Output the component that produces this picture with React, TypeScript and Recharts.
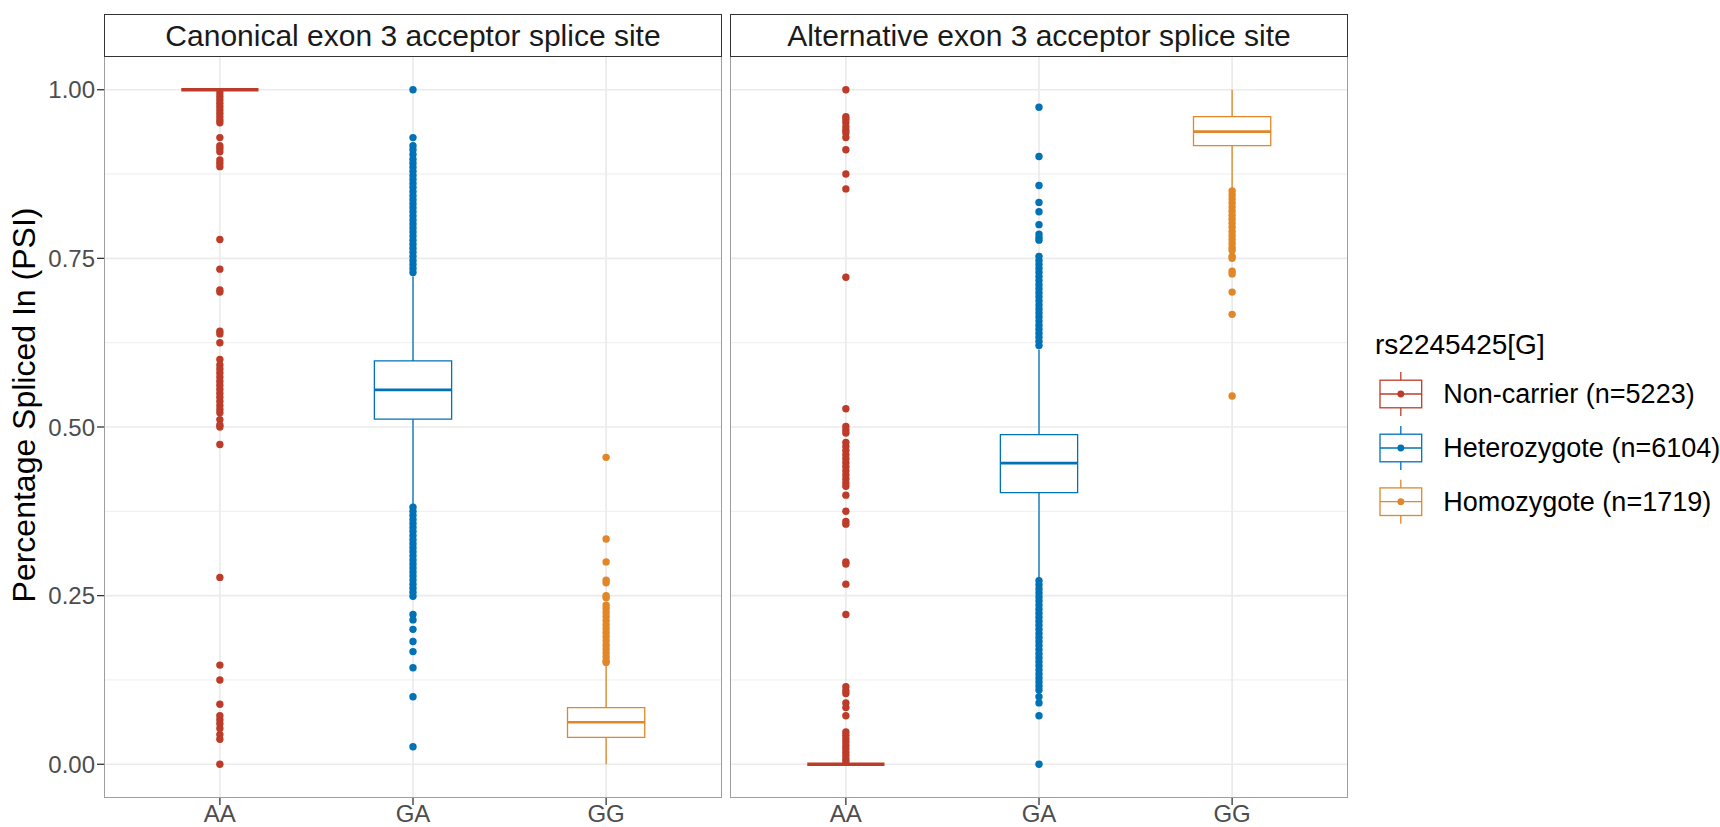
import React from "react";
import {
  ComposedChart,
  XAxis,
  YAxis,
  CartesianGrid,
  Scatter,
  ReferenceArea,
  ReferenceLine,
} from "recharts";

const genotypes = ["AA", "GA", "GG"];
const panelTitles = [
  "Canonical exon 3 acceptor splice site",
  "Alternative exon 3 acceptor splice site",
];
const groupLabels = [
  "Non-carrier (n=5223)",
  "Heterozygote (n=6104)",
  "Homozygote (n=1719)",
];
const groupColors = ["#BC3C29", "#0072B5", "#E18727"];
const legendTitle = "rs2245425[G]";
const yAxisTitle = "Percentage Spliced In (PSI)";
const yTicks = [0, 0.25, 0.5, 0.75, 1];
const yMinor = [0.125, 0.375, 0.625, 0.875];

// [whiskerLow, q1, median, q3, whiskerHigh] per genotype
const canonicalStats = [
  [1, 1, 1, 1, 1],
  [0.3845, 0.5116, 0.555, 0.598, 0.723],
  [0, 0.04, 0.0623, 0.084, 0.1495],
];
const alternativeStats = [
  [0, 0, 0, 0, 0],
  [0.276, 0.4028, 0.4464, 0.4888, 0.615],
  [0.854, 0.917, 0.938, 0.96, 1.0],
];

const canonicalAA = [
  0.995, 0.99, 0.985, 0.98, 0.975, 0.97, 0.965, 0.96, 0.955, 0.951,
  0.929, 0.917, 0.913, 0.908, 0.896, 0.891, 0.886,
  0.778, 0.734, 0.703, 0.7, 0.642, 0.638, 0.625, 0.6,
  0.592, 0.586, 0.58, 0.574, 0.568, 0.562, 0.556, 0.55, 0.544, 0.538, 0.532, 0.526, 0.521,
  0.511, 0.503, 0.5, 0.474, 0.277, 0.147, 0.125, 0.089, 0.072, 0.066, 0.06, 0.053, 0.044, 0.037, 0.0,
];
const canonicalGA = [
  1.0, 0.929, 0.917, 0.911, 0.904, 0.897,
  0.891, 0.885, 0.879, 0.873, 0.867, 0.861, 0.855, 0.849, 0.843, 0.837, 0.831, 0.825, 0.819, 0.813,
  0.807, 0.801, 0.795, 0.789, 0.783, 0.777, 0.771, 0.765, 0.759, 0.753, 0.747, 0.741, 0.735, 0.729,
  0.381, 0.375, 0.369, 0.363, 0.357, 0.351, 0.345, 0.339, 0.333, 0.327, 0.321, 0.315, 0.309, 0.303,
  0.297, 0.291, 0.285, 0.279, 0.273, 0.267, 0.261, 0.255, 0.249,
  0.222, 0.214, 0.2, 0.182, 0.167, 0.143, 0.1, 0.026,
];
const canonicalGG = [
  0.455, 0.334, 0.3, 0.273, 0.269, 0.25, 0.247,
  0.236, 0.231, 0.225, 0.219, 0.213, 0.207, 0.201, 0.195, 0.189, 0.183, 0.177, 0.171, 0.165, 0.159,
  0.153, 0.151,
];
const alternativeAA = [
  1.0, 0.96, 0.956, 0.951, 0.945, 0.94, 0.936, 0.929, 0.911, 0.875, 0.853, 0.722,
  0.527, 0.501, 0.496, 0.491,
  0.477, 0.471, 0.465, 0.459, 0.453, 0.447, 0.441, 0.435, 0.429, 0.423, 0.417, 0.412,
  0.399, 0.375, 0.36, 0.356, 0.3, 0.297, 0.267, 0.222, 0.115, 0.109, 0.105, 0.091, 0.084, 0.072,
  0.048, 0.043, 0.038, 0.033, 0.028, 0.023, 0.018, 0.013, 0.008, 0.004,
];
const alternativeGA = [
  0.974, 0.901, 0.858, 0.833, 0.819, 0.8, 0.786, 0.781, 0.777,
  0.753, 0.747, 0.741, 0.735, 0.729, 0.723, 0.717, 0.711, 0.705, 0.699, 0.693, 0.687, 0.681,
  0.675, 0.669, 0.663, 0.657, 0.651, 0.645, 0.639, 0.633, 0.627, 0.621,
  0.272, 0.266, 0.26, 0.254, 0.248, 0.242, 0.236, 0.23, 0.224, 0.218, 0.212, 0.206, 0.2, 0.194,
  0.188, 0.182, 0.176, 0.17, 0.164, 0.158, 0.152, 0.146, 0.14, 0.134, 0.128, 0.122, 0.116,
  0.11, 0.1, 0.091, 0.072, 0.0,
];
const alternativeGG = [
  0.85, 0.844, 0.838, 0.832, 0.826, 0.82, 0.814, 0.808, 0.802, 0.796, 0.79, 0.784, 0.778, 0.772,
  0.766, 0.762, 0.753, 0.75, 0.731, 0.727, 0.7, 0.667, 0.546,
];

const FONT = '"Liberation Sans", Arial, Helvetica, sans-serif';
const BOX_HALF = 0.2;

type PanelProps = {
  stats: number[][];
  outliers: number[][];
  showY: boolean;
  width: number;
};

function Panel({ stats, outliers, showY, width }: PanelProps) {
  return (
    <ComposedChart
      width={width}
      height={771}
      margin={{ top: 0, right: 0, bottom: 0, left: 0 }}
    >
      <CartesianGrid
        stroke="#EBEBEB"
        strokeWidth={0.9}
        vertical={false}
        horizontalValues={yMinor}
      />
      <CartesianGrid
        stroke="#EBEBEB"
        strokeWidth={1.7}
        horizontalValues={yTicks}
        verticalValues={[1, 2, 3]}
      />
      <XAxis
        type="number"
        dataKey="x"
        domain={[0.4, 3.6]}
        ticks={[1, 2, 3]}
        interval={0}
        allowDataOverflow
        tickFormatter={(v: number) => genotypes[v - 1]}
        height={29}
        axisLine={false}
        tickLine={{ stroke: "#333333", strokeWidth: 1.3 }}
        tickSize={7}
        tickMargin={0}
        tick={{ fill: "#4D4D4D", fontSize: 24, fontFamily: FONT }}
      />
      <YAxis
        type="number"
        dataKey="y"
        domain={[-0.05, 1.05]}
        ticks={yTicks}
        interval={0}
        allowDataOverflow
        hide={!showY}
        width={showY ? 104 : 0}
        tickFormatter={(v: number) => v.toFixed(2)}
        axisLine={false}
        tickLine={{ stroke: "#333333", strokeWidth: 1.3 }}
        tickSize={7}
        tickMargin={2}
        tick={{ fill: "#4D4D4D", fontSize: 24, fontFamily: FONT }}
      />
      {stats.map((s, i) => {
        const c = i + 1;
        const col = groupColors[i];
        const [wl, q1, med, q3, wh] = s;
        const degenerate = q3 - q1 < 1e-9;
        return (
          <React.Fragment key={"box" + i}>
            {wh > q3 && (
              <ReferenceLine
                segment={[
                  { x: c, y: q3 },
                  { x: c, y: wh },
                ]}
                stroke={col}
                strokeWidth={1.3}
              />
            )}
            {q1 > wl && (
              <ReferenceLine
                segment={[
                  { x: c, y: wl },
                  { x: c, y: q1 },
                ]}
                stroke={col}
                strokeWidth={1.3}
              />
            )}
            {!degenerate && (
              <ReferenceArea
                x1={c - BOX_HALF}
                x2={c + BOX_HALF}
                y1={q1}
                y2={q3}
                fill="#FFFFFF"
                fillOpacity={1}
                stroke={col}
                strokeWidth={1.3}
              />
            )}
            <ReferenceLine
              segment={[
                { x: c - BOX_HALF, y: med },
                { x: c + BOX_HALF, y: med },
              ]}
              stroke={col}
              strokeWidth={degenerate ? 3.4 : 2.7}
            />
          </React.Fragment>
        );
      })}
      {outliers.map((arr, i) => (
        <Scatter
          key={"pts" + i}
          data={arr.map((v) => ({ x: i + 1, y: v }))}
          dataKey="y"
          fill={groupColors[i]}
          isAnimationActive={false}
          shape={(p: any) => (
            <circle cx={p.cx} cy={p.cy} r={3.7} fill={groupColors[i]} />
          )}
        />
      ))}
    </ComposedChart>
  );
}

function LegendKey({ y, color }: { y: number; color: string }) {
  return (
    <g>
      <line x1={40.8} x2={40.8} y1={y - 22} y2={y - 13.8} stroke={color} strokeWidth={1.3} />
      <line x1={40.8} x2={40.8} y1={y + 13.8} y2={y + 22} stroke={color} strokeWidth={1.3} />
      <rect x={20} y={y - 13.8} width={41.7} height={27.6} fill="#FFFFFF" stroke={color} strokeWidth={1.3} />
      <line x1={20} x2={61.7} y1={y} y2={y} stroke={color} strokeWidth={1.3} />
      <circle cx={40.8} cy={y} r={3.4} fill={color} />
    </g>
  );
}

export default function App() {
  const canonicalOut = [canonicalAA, canonicalGA, canonicalGG];
  const alternativeOut = [alternativeAA, alternativeGA, alternativeGG];
  const stripStyle: React.CSSProperties = {
    position: "absolute",
    top: 14,
    height: 43,
    width: 618,
    boxSizing: "border-box",
    border: "1.5px solid #333333",
    background: "#FFFFFF",
    display: "flex",
    alignItems: "center",
    justifyContent: "center",
    fontSize: 30,
    color: "#1A1A1A",
    fontFamily: FONT,
    whiteSpace: "nowrap",
  };
  const borderStyle: React.CSSProperties = {
    position: "absolute",
    top: 56,
    height: 742,
    width: 618,
    boxSizing: "border-box",
    border: "1.5px solid #9E9E9E",
    pointerEvents: "none",
  };
  const legendYs = [94, 148, 201.7];
  return (
    <div
      style={{
        position: "absolute",
        left: 0,
        top: 0,
        width: 1720,
        height: 827,
        background: "#FFFFFF",
        fontFamily: FONT,
        overflow: "hidden",
      }}
    >
      <div style={{ position: "absolute", left: 0, top: 56 }}>
        <Panel stats={canonicalStats} outliers={canonicalOut} showY={true} width={722} />
      </div>
      <div style={{ position: "absolute", left: 730, top: 56 }}>
        <Panel stats={alternativeStats} outliers={alternativeOut} showY={false} width={618} />
      </div>
      <div style={{ ...borderStyle, left: 104 }} />
      <div style={{ ...borderStyle, left: 730 }} />
      <div style={{ ...stripStyle, left: 104 }}>{panelTitles[0]}</div>
      <div style={{ ...stripStyle, left: 730 }}>{panelTitles[1]}</div>
      <svg
        style={{ position: "absolute", left: 0, top: 0 }}
        width={60}
        height={827}
      >
        <text
          x={35}
          y={405}
          transform="rotate(-90, 35, 405)"
          textAnchor="middle"
          fontSize={32}
          fontFamily={FONT}
          fill="#000000"
        >
          {yAxisTitle}
        </text>
      </svg>
      <svg
        style={{ position: "absolute", left: 1360, top: 300 }}
        width={360}
        height={240}
      >
        <text x={15} y={54} fontSize={28} fontFamily={FONT} fill="#000000">
          {legendTitle}
        </text>
        {groupLabels.map((lab, i) => (
          <g key={lab}>
            <LegendKey y={legendYs[i]} color={groupColors[i]} />
            <text
              x={83.3}
              y={legendYs[i]}
              dominantBaseline="central"
              fontSize={27}
              fontFamily={FONT}
              fill="#000000"
            >
              {lab}
            </text>
          </g>
        ))}
      </svg>
    </div>
  );
}
